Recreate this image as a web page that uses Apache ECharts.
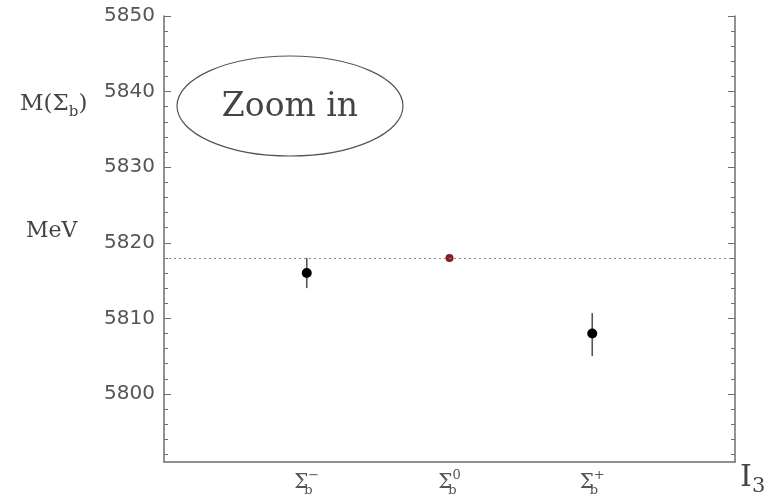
<!DOCTYPE html>
<html>
<head>
<meta charset="utf-8">
<script src="https://cdn.jsdelivr.net/npm/echarts@6/dist/echarts.min.js"></script>
<style>
html,body{margin:0;padding:0;background:#fff;}
#chart{width:773px;height:502px;}
</style>
</head>
<body>
<div id="chart"></div>
<script>
// ---- data ----
const isospin = [-1, 0, 1];                 // I3 positions
const stateSup = ['\u2212', '0', '+'];      // Σb superscripts
const masses = [5816.0, 5818.0, 5808.0];    // MeV
const errDown = [2.0, 0.0, 3.0];
const errUp = [2.0, 0.0, 2.7];
const refMass = 5818.0;                     // dotted reference line
const yMajorTicks = [5800, 5810, 5820, 5830, 5840, 5850];
const yMinorTicks = [5792, 5794, 5796, 5798, 5802, 5804, 5806, 5808, 5812, 5814, 5816, 5818,
  5822, 5824, 5826, 5828, 5832, 5834, 5836, 5838, 5842, 5844, 5846, 5848];
const yMin = 5791, yMax = 5850;
const xMin = -2, xMax = 2;
const yTitle = 'M(\u03A3';
const yUnit = 'MeV';
const xTitle = 'I';
const xTitleSub = '3';
const noteText = 'Zoom in';

const chart = echarts.init(document.getElementById('chart'));
const axisColor = '#6e6e6e';
const serif = '"DejaVu Serif", "Liberation Serif", serif';

function yAxisDef(pos, major, showLabel) {
  return {
    type: 'value', position: pos, min: yMin, max: yMax,
    axisLine: { show: major, onZero: false, lineStyle: { color: axisColor, width: 1.5 } },
    axisTick: { show: true, inside: true, length: major ? 7 : 4,
      customValues: major ? yMajorTicks : yMinorTicks,
      lineStyle: { color: axisColor, width: 1 } },
    axisLabel: { show: showLabel, customValues: yMajorTicks, margin: 9,
      formatter: function (v) { return String(v); },
      color: '#555', fontFamily: '"DejaVu Sans", sans-serif', fontSize: 20 },
    splitLine: { show: false }
  };
}

const mainData = isospin.map((x, i) => [x, masses[i]]);
const errData = isospin.map((x, i) => [x, masses[i] - errDown[i], masses[i] + errUp[i]]).filter((d, i) => errDown[i] + errUp[i] > 0);

chart.setOption({
  animation: false,
  backgroundColor: '#fff',
  grid: { left: 164, right: 38, top: 16, bottom: 40 },
  xAxis: {
    type: 'value', min: xMin, max: xMax,
    axisLine: { show: true, onZero: false, lineStyle: { color: axisColor, width: 1.5 } },
    axisTick: { show: false },
    splitLine: { show: false },
    axisLabel: {
      customValues: isospin, margin: 7,
      formatter: function (v) {
        const i = isospin.indexOf(v);
        return '{s|\u03A3}{b|b}{p|' + stateSup[i] + '}';
      },
      rich: {
        s: { fontFamily: serif, fontSize: 20, color: '#555', lineHeight: 28, verticalAlign: 'middle' },
        b: { fontFamily: serif, fontSize: 13, color: '#555', width: 0, verticalAlign: 'bottom', lineHeight: 14 },
        p: { fontFamily: serif, fontSize: 13, color: '#555', verticalAlign: 'top', lineHeight: 14 }
      }
    }
  },
  yAxis: [
    yAxisDef('left', true, true),
    yAxisDef('left', false, false),
    yAxisDef('right', true, false),
    yAxisDef('right', false, false)
  ],
  series: [
    {
      type: 'custom',
      data: errData,
      renderItem: function (params, api) {
        const p1 = api.coord([api.value(0), api.value(1)]);
        const p2 = api.coord([api.value(0), api.value(2)]);
        return { type: 'line', shape: { x1: p1[0], y1: p1[1], x2: p2[0], y2: p2[1] },
          style: { stroke: '#555', lineWidth: 1.6 } };
      },
      z: 2
    },
    {
      type: 'scatter',
      data: mainData,
      symbol: 'circle',
      symbolSize: function (v) { return v[0] === 0 ? 8 : 10; },
      itemStyle: { opacity: 1, color: function (p) { return p.data[0] === 0 ? '#8a1c1c' : '#000'; } },
      z: 3,
      markLine: {
        silent: true, symbol: 'none', label: { show: false },
        lineStyle: { type: [2, 3], color: '#8a8a8a', width: 1 },
        data: [{ yAxis: refMass }]
      }
    }
  ],
  graphic: [
    { type: 'ellipse', shape: { cx: 290, cy: 106, rx: 113, ry: 50 },
      style: { fill: 'none', stroke: '#555', lineWidth: 1.2 } },
    { type: 'text', x: 290, y: 107,
      style: { text: noteText, fontFamily: serif, fontSize: 33, fill: '#444', align: 'center', verticalAlign: 'middle' } },
    { type: 'text', x: 20, y: 93,
      style: { text: '{t|' + yTitle + '}{s|b}{t|)}', rich: {
        t: { fontFamily: serif, fontSize: 23, fill: '#444', verticalAlign: 'top', lineHeight: 27 },
        s: { fontFamily: serif, fontSize: 15, fill: '#444', verticalAlign: 'bottom', lineHeight: 16 }
      } } },
    { type: 'text', x: 26, y: 220,
      style: { text: yUnit, fontFamily: serif, fontSize: 22, fill: '#444' } },
    { type: 'text', x: 740, y: 463,
      style: { text: xTitle, fontFamily: serif, fontSize: 30, fill: '#444' } },
    { type: 'text', x: 752, y: 476,
      style: { text: xTitleSub, fontFamily: serif, fontSize: 21, fill: '#444' } }
  ]
});
</script>
</body>
</html>
